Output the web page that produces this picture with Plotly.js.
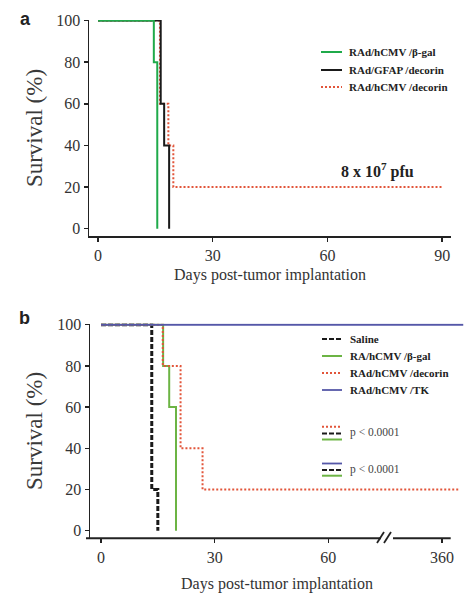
<!DOCTYPE html>
<html>
<head>
<meta charset="utf-8">
<script src="https://cdn.plot.ly/plotly-3.0.1.min.js"></script>
<style>html,body{margin:0;padding:0;background:#fff;}#chart{width:474px;height:600px;}</style>
</head>
<body>
<div id="chart"></div>
<script>
// ---------- Panel a data (days, survival %) ----------
const aNames = ['RAd/hCMV /β-gal', 'RAd/GFAP /decorin', 'RAd/hCMV /decorin'];
const aGalDays = [0, 14.6, 15.5];
const aGalSurv = [100, 80, 0];
const aGfapDays = [0, 16.4, 17.3, 18.6];
const aGfapSurv = [100, 60, 40, 0];
const aDecDays = [0, 16.2, 18.4, 19.7, 90];
const aDecSurv = [100, 60, 40, 20, 20];

// ---------- Panel b data ----------
const bNames = ['Saline', 'RA/hCMV /β-gal', 'RAd/hCMV /decorin', 'RAd/hCMV /TK'];
const bSalineDays = [0, 13.4, 15.0];
const bSalineSurv = [100, 20, 0];
const bGalDays = [0, 16.4, 18.0, 19.8];
const bGalSurv = [100, 80, 60, 0];
const bDecDays = [0, 16.3, 21.0, 26.8, 94.7];
const bDecSurv = [100, 80, 40, 20, 20];
const bTkDays = [0, 95.6];
const bTkSurv = [100, 100];

// ---------- tick labels ----------
const yTicks = [0, 20, 40, 60, 80, 100];
const aXTicks = [0, 30, 60, 90];
const bXTickVals = [0, 30, 60, 90];
const bXTickText = ['0', '30', '60', '360'];
const pText = 'p < 0.0001';
const doseText = '8 x 10<sup>7</sup> pfu';

const W = 474, H = 600;
const px = v => v / W;
const py = v => 1 - v / H;

const serif = 'Liberation Serif, Times New Roman, serif';
const GREEN_A = '#1faa4a', GREEN_B = '#6cb444', RED = '#e2553a', BLUE = '#5557a8', BLACK = '#1a1a1a';

const styles = {
  aGal: {shape: 'hv', color: GREEN_A, width: 2},
  aGfap: {shape: 'hv', color: BLACK, width: 2},
  aDec: {shape: 'hv', color: RED, width: 2, dash: '2px,2px'},
  bSal: {shape: 'hv', color: BLACK, width: 3, dash: '5px,2px'},
  bGal: {shape: 'hv', color: GREEN_B, width: 2},
  bDec: {shape: 'hv', color: RED, width: 2, dash: '2px,2px'},
  bTk: {shape: 'hv', color: BLUE, width: 1.8}
};

const traces = [
  {x: aDecDays, y: aDecSurv, name: aNames[2], xaxis: 'x', yaxis: 'y', mode: 'lines', line: styles.aDec},
  {x: aGfapDays, y: aGfapSurv, name: aNames[1], xaxis: 'x', yaxis: 'y', mode: 'lines', line: styles.aGfap},
  {x: aGalDays, y: aGalSurv, name: aNames[0], xaxis: 'x', yaxis: 'y', mode: 'lines', line: styles.aGal},
  {x: bSalineDays, y: bSalineSurv, name: bNames[0], xaxis: 'x2', yaxis: 'y2', mode: 'lines', line: styles.bSal},
  {x: bGalDays, y: bGalSurv, name: bNames[1], xaxis: 'x2', yaxis: 'y2', mode: 'lines', line: styles.bGal},
  {x: bDecDays, y: bDecSurv, name: bNames[2], xaxis: 'x2', yaxis: 'y2', mode: 'lines', line: styles.bDec},
  {x: bTkDays, y: bTkSurv, name: bNames[3], xaxis: 'x2', yaxis: 'y2', mode: 'lines', line: styles.bTk}
];

const tickFont = {family: serif, size: 16, color: '#333'};
const titleFont = {family: serif, size: 16, color: '#333'};
const yTitleFont = {family: serif, size: 23, color: '#3a3a3a'};

const axBase = {
  showgrid: false, zeroline: false, ticks: 'outside', ticklen: 4, tickwidth: 1.5, tickcolor: '#222',
  tickfont: tickFont, fixedrange: true
};

function keyLine(x0, x1, y, st) {
  return {type: 'line', xref: 'paper', yref: 'paper', x0: px(x0), x1: px(x1), y0: py(y), y1: py(y),
          line: {color: st.color, width: Math.min(st.width, 2), dash: st.dash || 'solid'}};
}
function label(text, x, y, font, xanchor) {
  return {text: text, xref: 'paper', yref: 'paper', x: px(x), y: py(y), showarrow: false,
          xanchor: xanchor || 'left', yanchor: 'middle', font: font};
}
const legFont = {family: serif, size: 11, color: '#222', weight: 'bold'};
const pFont = {family: serif, size: 11.5, color: '#444'};

const shapes = [
  // panel b x-axis line with break
  {type: 'line', xref: 'paper', yref: 'paper', x0: px(86), x1: px(381), y0: py(538.3), y1: py(538.3), line: {color: '#222', width: 2}},
  {type: 'line', xref: 'paper', yref: 'paper', x0: px(393), x1: px(450.7), y0: py(538.3), y1: py(538.3), line: {color: '#222', width: 2}},
  {type: 'line', xref: 'paper', yref: 'paper', x0: px(377), x1: px(384), y0: py(543), y1: py(532), line: {color: '#222', width: 1.8}},
  {type: 'line', xref: 'paper', yref: 'paper', x0: px(384), x1: px(391), y0: py(543), y1: py(532), line: {color: '#222', width: 1.8}},
  // legend a keys
  keyLine(321, 342, 52, styles.aGal),
  keyLine(321, 342, 70, styles.aGfap),
  keyLine(321, 342, 87, styles.aDec),
  // legend b keys
  keyLine(322, 342, 339, styles.bSal),
  keyLine(322, 342, 356, styles.bGal),
  keyLine(322, 342, 373, styles.bDec),
  keyLine(322, 342, 390, styles.bTk),
  // p-value keys
  keyLine(322, 342, 426.7, styles.bDec),
  keyLine(322, 342, 433.5, styles.bSal),
  keyLine(322, 342, 439.5, styles.bGal),
  keyLine(322, 342, 463.5, styles.bTk),
  keyLine(322, 342, 470, styles.bSal),
  keyLine(322, 342, 475.7, styles.bGal)
];

const annotations = [
  label('<b>a</b>', 25, 19, {family: 'Liberation Sans, Arial, sans-serif', size: 18, color: '#222'}, 'center'),
  label('<b>b</b>', 24, 318, {family: 'Liberation Sans, Arial, sans-serif', size: 18, color: '#222'}, 'center'),
  label('<b>' + doseText + '</b>', 377, 170, {family: serif, size: 16, color: '#222'}, 'center'),
  label(aNames[0], 347, 52, legFont),
  label(aNames[1], 347, 70, legFont),
  label(aNames[2], 347, 87, legFont),
  label(bNames[0], 348, 339, legFont),
  label(bNames[1], 348, 356, legFont),
  label(bNames[2], 348, 373, legFont),
  label(bNames[3], 348, 390, legFont),
  label(pText, 348, 432.5, pFont),
  label(pText, 348, 469, pFont)
];

const layout = {
  width: W, height: H,
  margin: {l: 0, r: 0, t: 0, b: 0},
  paper_bgcolor: '#fff', plot_bgcolor: 'rgba(0,0,0,0)',
  showlegend: false,
  xaxis: Object.assign({}, axBase, {
    domain: [px(89), px(451)], range: [-2.35, 92.3], anchor: 'y',
    tickvals: aXTicks, showline: true, linecolor: '#222', linewidth: 2,
    title: {text: 'Days post-tumor implantation', font: titleFont, standoff: 6}
  }),
  yaxis: Object.assign({}, axBase, {
    domain: [py(236), py(20)], range: [-3.5, 100.3], anchor: 'x',
    tickvals: yTicks, showline: true, linecolor: '#222', linewidth: 1.5,
    title: {text: 'Survival (%)', font: yTitleFont, standoff: 7}
  }),
  xaxis2: Object.assign({}, axBase, {
    domain: [px(90), px(464)], range: [-2.9, 95.8], anchor: 'y2',
    tickvals: bXTickVals, ticktext: bXTickText, showline: false,
    title: {text: 'Days post-tumor implantation', font: titleFont, standoff: 13}
  }),
  yaxis2: Object.assign({}, axBase, {
    domain: [py(538.3), py(323.5)], range: [-3.7, 100.6], anchor: 'x2',
    tickvals: yTicks, showline: true, linecolor: '#222', linewidth: 1.5,
    title: {text: 'Survival (%)', font: yTitleFont, standoff: 8}
  }),
  shapes: shapes,
  annotations: annotations
};

Plotly.newPlot('chart', traces, layout, {displayModeBar: false, staticPlot: true});
</script>
</body>
</html>
